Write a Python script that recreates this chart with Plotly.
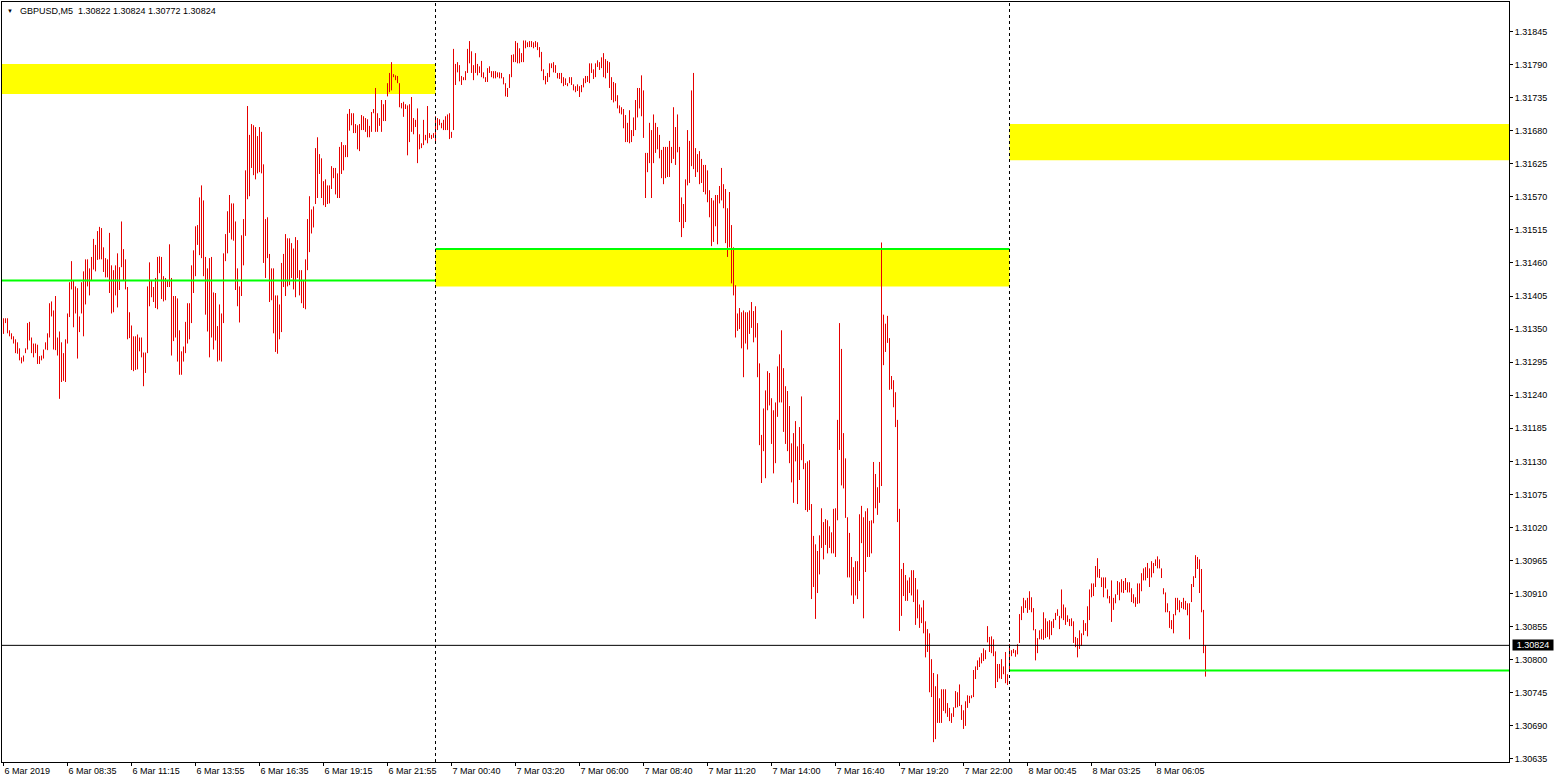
import plotly.graph_objects as go

symbol_line = "GBPUSD,M5&nbsp; 1.30822 1.30824 1.30772 1.30824"
bid_price = 1.30824

# M5 bars, oldest first. bar index 0 = 7 Mar 00:00, so the list starts at 6 Mar 06:00 (-216)
first_bar = -216
bar_high = [
    1.31368, 1.31368, 1.31368, 1.31348, 1.31343, 1.31338, 1.31333, 1.31328, 1.31318, 1.31303,
    1.31306, 1.31318, 1.31360, 1.31362, 1.31336, 1.31326, 1.31326, 1.31324, 1.31305, 1.31306,
    1.31316, 1.31328, 1.31343, 1.31393, 1.31396, 1.31381, 1.31405, 1.31336, 1.31346, 1.31328,
    1.31310, 1.31333, 1.31376, 1.31428, 1.31463, 1.31431, 1.31421, 1.31418, 1.31371, 1.31428,
    1.31446, 1.31466, 1.31466, 1.31451, 1.31470, 1.31500, 1.31490, 1.31513, 1.31520, 1.31518,
    1.31486, 1.31468, 1.31466, 1.31510, 1.31456, 1.31448, 1.31456, 1.31476, 1.31453, 1.31529,
    1.31483, 1.31466, 1.31420, 1.31378, 1.31356, 1.31338, 1.31338, 1.31341, 1.31336, 1.31336,
    1.31311, 1.31311, 1.31421, 1.31461, 1.31431, 1.31420, 1.31435, 1.31470, 1.31471, 1.31470,
    1.31438, 1.31435, 1.31430, 1.31491, 1.31435, 1.31405, 1.31405, 1.31401, 1.31348, 1.31313,
    1.31321, 1.31362, 1.31393, 1.31393, 1.31456, 1.31481, 1.31521, 1.31523, 1.31569, 1.31589,
    1.31564, 1.31470, 1.31451, 1.31468, 1.31470, 1.31411, 1.31410, 1.31355, 1.31391, 1.31376,
    1.31476, 1.31508, 1.31546, 1.31573, 1.31559, 1.31559, 1.31529, 1.31451, 1.31421, 1.31506,
    1.31533, 1.31614, 1.31721, 1.31673, 1.31691, 1.31689, 1.31686, 1.31671, 1.31686, 1.31678,
    1.31624, 1.31533, 1.31536, 1.31475, 1.31451, 1.31451, 1.31406, 1.31406, 1.31391, 1.31460,
    1.31475, 1.31508, 1.31501, 1.31501, 1.31493, 1.31484, 1.31503, 1.31498, 1.31448, 1.31448,
    1.31431, 1.31466, 1.31533, 1.31571, 1.31549, 1.31554, 1.31651, 1.31669, 1.31641, 1.31634,
    1.31596, 1.31599, 1.31589, 1.31589, 1.31621, 1.31618, 1.31618, 1.31609, 1.31653, 1.31661,
    1.31656, 1.31656, 1.31708, 1.31716, 1.31709, 1.31709, 1.31691, 1.31689, 1.31691, 1.31706,
    1.31704, 1.31701, 1.31699, 1.31688, 1.31711, 1.31716, 1.31751, 1.31709, 1.31701, 1.31731,
    1.31724, 1.31731, 1.31759, 1.31776, 1.31794, 1.31774, 1.31772, 1.31771, 1.31759, 1.31726,
    1.31728, 1.31724, 1.31722, 1.31724, 1.31736, 1.31701, 1.31698, 1.31717, 1.31674, 1.31659,
    1.31698, 1.31673, 1.31721, 1.31676, 1.31673, 1.31676, 1.31704, 1.31701, 1.31699, 1.31693,
    1.31698, 1.31704, 1.31707, 1.31709, 1.31678, 1.31816, 1.31791, 1.31794, 1.31789, 1.31771,
    1.31769, 1.31779, 1.31816, 1.31829, 1.31812, 1.31789, 1.31809, 1.31791, 1.31787, 1.31796,
    1.31777, 1.31769, 1.31784, 1.31787, 1.31779, 1.31779, 1.31779, 1.31777, 1.31777, 1.31776,
    1.31769, 1.31759, 1.31751, 1.31774, 1.31806, 1.31807, 1.31829, 1.31826, 1.31817, 1.31809,
    1.31830, 1.31830, 1.31827, 1.31829, 1.31829, 1.31827, 1.31829, 1.31827, 1.31819, 1.31811,
    1.31782, 1.31771, 1.31776, 1.31792, 1.31792, 1.31794, 1.31789, 1.31776, 1.31776, 1.31776,
    1.31769, 1.31767, 1.31759, 1.31769, 1.31769, 1.31757, 1.31754, 1.31757, 1.31754, 1.31756,
    1.31767, 1.31771, 1.31771, 1.31792, 1.31792, 1.31782, 1.31792, 1.31797, 1.31794, 1.31802,
    1.31809, 1.31799, 1.31796, 1.31794, 1.31769, 1.31761, 1.31759, 1.31739, 1.31722, 1.31719,
    1.31716, 1.31706, 1.31693, 1.31714, 1.31681, 1.31702, 1.31731, 1.31751, 1.31751, 1.31772,
    1.31747, 1.31643, 1.31643, 1.31693, 1.31681, 1.31707, 1.31693, 1.31686, 1.31673, 1.31648,
    1.31653, 1.31653, 1.31653, 1.31663, 1.31653, 1.31719, 1.31686, 1.31707, 1.31653, 1.31569,
    1.31558, 1.31599, 1.31681, 1.31663, 1.31747, 1.31776, 1.31651, 1.31641, 1.31646, 1.31633,
    1.31623, 1.31623, 1.31614, 1.31581, 1.31568, 1.31564, 1.31573, 1.31573, 1.31588, 1.31618,
    1.31591, 1.31583, 1.31551, 1.31578, 1.31523, 1.31486, 1.31423, 1.31376, 1.31385, 1.31378,
    1.31381, 1.31378, 1.31378, 1.31381, 1.31395, 1.31380, 1.31388, 1.31360, 1.31293, 1.31174,
    1.31218, 1.31248, 1.31280, 1.31277, 1.31235, 1.31215, 1.31228, 1.31288, 1.31308, 1.31348,
    1.31285, 1.31255, 1.31247, 1.31222, 1.31160, 1.31177, 1.31197, 1.31155, 1.31187, 1.31238,
    1.31159, 1.31127, 1.31130, 1.31132, 1.31059, 1.31006, 1.30992, 1.30981, 1.31007, 1.31052,
    1.31029, 1.31034, 1.31032, 1.31022, 1.31012, 1.31051, 1.31052, 1.31199, 1.31360, 1.31317,
    1.31177, 1.31135, 1.31037, 1.31011, 1.30971, 1.30954, 1.30964, 1.30964, 1.31042, 1.31056,
    1.31037, 1.31047, 1.31052, 1.31031, 1.31032, 1.31129, 1.31109, 1.31087, 1.31129, 1.31494,
    1.31374, 1.31359, 1.31372, 1.31335, 1.31272, 1.31265, 1.31245, 1.31199, 1.31051, 1.30951,
    1.30961, 1.30941, 1.30932, 1.30937, 1.30949, 1.30949, 1.30936, 1.30917, 1.30892, 1.30887,
    1.30899, 1.30864, 1.30851, 1.30844, 1.30801, 1.30778, 1.30756, 1.30776, 1.30736, 1.30751,
    1.30751, 1.30751, 1.30728, 1.30720, 1.30711, 1.30721, 1.30748, 1.30746, 1.30759, 1.30725,
    1.30716, 1.30731, 1.30741, 1.30740, 1.30741, 1.30783, 1.30789, 1.30799, 1.30804, 1.30811,
    1.30819, 1.30816, 1.30856, 1.30838, 1.30839, 1.30834, 1.30814, 1.30793, 1.30793, 1.30801,
    1.30789, 1.30813, 1.30776, 1.30826, 1.30816, 1.30818, 1.30816, 1.30826, 1.30876, 1.30889,
    1.30903, 1.30899, 1.30903, 1.30914, 1.30904, 1.30886, 1.30851, 1.30836, 1.30849, 1.30851,
    1.30879, 1.30869, 1.30864, 1.30866, 1.30864, 1.30868, 1.30878, 1.30884, 1.30873, 1.30917,
    1.30892, 1.30887, 1.30874, 1.30868, 1.30869, 1.30864, 1.30838, 1.30836, 1.30849, 1.30844,
    1.30866, 1.30861, 1.30889, 1.30917, 1.30927, 1.30927, 1.30956, 1.30969, 1.30951, 1.30937,
    1.30937, 1.30937, 1.30917, 1.30906, 1.30932, 1.30903, 1.30909, 1.30931, 1.30929, 1.30934,
    1.30931, 1.30936, 1.30929, 1.30929, 1.30919, 1.30909, 1.30904, 1.30927, 1.30927, 1.30944,
    1.30952, 1.30954, 1.30961, 1.30952, 1.30964, 1.30961, 1.30967, 1.30972, 1.30967, 1.30952,
    1.30919, 1.30912, 1.30894, 1.30881, 1.30866, 1.30876, 1.30903, 1.30903, 1.30899, 1.30896,
    1.30903, 1.30898, 1.30894, 1.30894, 1.30926, 1.30939, 1.30974, 1.30971, 1.30967, 1.30951,
    1.30883, 1.30824,
]
bar_low = [
    1.31342, 1.31360, 1.31343, 1.31338, 1.31333, 1.31326, 1.31310, 1.31309, 1.31298, 1.31293,
    1.31296, 1.31310, 1.31316, 1.31331, 1.31310, 1.31303, 1.31310, 1.31292, 1.31292, 1.31298,
    1.31301, 1.31316, 1.31315, 1.31336, 1.31371, 1.31316, 1.31315, 1.31306, 1.31234, 1.31262,
    1.31264, 1.31262, 1.31326, 1.31370, 1.31416, 1.31353, 1.31376, 1.31301, 1.31345, 1.31376,
    1.31338, 1.31391, 1.31421, 1.31406, 1.31431, 1.31449, 1.31446, 1.31465, 1.31466, 1.31466,
    1.31445, 1.31436, 1.31436, 1.31410, 1.31376, 1.31378, 1.31406, 1.31386, 1.31415, 1.31453,
    1.31431, 1.31416, 1.31333, 1.31335, 1.31282, 1.31280, 1.31282, 1.31283, 1.31313, 1.31303,
    1.31255, 1.31277, 1.31310, 1.31388, 1.31403, 1.31395, 1.31385, 1.31383, 1.31443, 1.31400,
    1.31396, 1.31398, 1.31420, 1.31420, 1.31306, 1.31330, 1.31336, 1.31296, 1.31274, 1.31274,
    1.31296, 1.31310, 1.31326, 1.31333, 1.31360, 1.31410, 1.31438, 1.31490, 1.31473, 1.31468,
    1.31438, 1.31374, 1.31346, 1.31303, 1.31336, 1.31316, 1.31331, 1.31296, 1.31298, 1.31296,
    1.31360, 1.31463, 1.31476, 1.31510, 1.31499, 1.31497, 1.31415, 1.31388, 1.31361, 1.31405,
    1.31456, 1.31505, 1.31566, 1.31571, 1.31618, 1.31606, 1.31599, 1.31609, 1.31611, 1.31609,
    1.31460, 1.31435, 1.31468, 1.31395, 1.31398, 1.31343, 1.31312, 1.31309, 1.31333, 1.31345,
    1.31420, 1.31405, 1.31421, 1.31423, 1.31435, 1.31416, 1.31403, 1.31435, 1.31406, 1.31393,
    1.31385, 1.31383, 1.31448, 1.31478, 1.31509, 1.31519, 1.31558, 1.31568, 1.31608, 1.31568,
    1.31556, 1.31553, 1.31558, 1.31559, 1.31583, 1.31601, 1.31574, 1.31568, 1.31568, 1.31608,
    1.31614, 1.31636, 1.31636, 1.31680, 1.31689, 1.31676, 1.31676, 1.31649, 1.31646, 1.31681,
    1.31681, 1.31678, 1.31669, 1.31669, 1.31678, 1.31709, 1.31678, 1.31678, 1.31688, 1.31678,
    1.31696, 1.31696, 1.31737, 1.31744, 1.31747, 1.31769, 1.31764, 1.31759, 1.31719, 1.31717,
    1.31703, 1.31716, 1.31639, 1.31661, 1.31678, 1.31674, 1.31686, 1.31626, 1.31649, 1.31651,
    1.31656, 1.31664, 1.31659, 1.31668, 1.31666, 1.31668, 1.31659, 1.31681, 1.31689, 1.31684,
    1.31681, 1.31681, 1.31681, 1.31666, 1.31668, 1.31681, 1.31756, 1.31777, 1.31762, 1.31756,
    1.31764, 1.31764, 1.31776, 1.31792, 1.31776, 1.31764, 1.31776, 1.31772, 1.31776, 1.31769,
    1.31767, 1.31761, 1.31761, 1.31776, 1.31769, 1.31767, 1.31767, 1.31769, 1.31767, 1.31767,
    1.31757, 1.31737, 1.31736, 1.31751, 1.31769, 1.31794, 1.31794, 1.31792, 1.31792, 1.31794,
    1.31794, 1.31817, 1.31819, 1.31819, 1.31819, 1.31817, 1.31819, 1.31814, 1.31802, 1.31779,
    1.31764, 1.31757, 1.31761, 1.31769, 1.31784, 1.31777, 1.31776, 1.31767, 1.31766, 1.31759,
    1.31754, 1.31756, 1.31754, 1.31759, 1.31756, 1.31747, 1.31744, 1.31746, 1.31736, 1.31744,
    1.31752, 1.31759, 1.31761, 1.31759, 1.31776, 1.31766, 1.31769, 1.31786, 1.31781, 1.31784,
    1.31769, 1.31767, 1.31776, 1.31751, 1.31731, 1.31727, 1.31729, 1.31717, 1.31709, 1.31707,
    1.31684, 1.31661, 1.31661, 1.31659, 1.31661, 1.31671, 1.31681, 1.31702, 1.31717, 1.31704,
    1.31668, 1.31568, 1.31611, 1.31626, 1.31568, 1.31626, 1.31643, 1.31649, 1.31634, 1.31601,
    1.31591, 1.31601, 1.31603, 1.31603, 1.31626, 1.31633, 1.31623, 1.31644, 1.31528, 1.31503,
    1.31518, 1.31528, 1.31589, 1.31593, 1.31621, 1.31616, 1.31603, 1.31611, 1.31591, 1.31593,
    1.31578, 1.31574, 1.31561, 1.31536, 1.31488, 1.31495, 1.31521, 1.31491, 1.31559, 1.31564,
    1.31551, 1.31493, 1.31470, 1.31486, 1.31426, 1.31406, 1.31336, 1.31347, 1.31350, 1.31318,
    1.31270, 1.31326, 1.31316, 1.31342, 1.31352, 1.31328, 1.31336, 1.31270, 1.31157, 1.31094,
    1.31147, 1.31102, 1.31215, 1.31223, 1.31159, 1.31110, 1.31127, 1.31204, 1.31228, 1.31228,
    1.31179, 1.31159, 1.31147, 1.31127, 1.31095, 1.31061, 1.31130, 1.31059, 1.31099, 1.31132,
    1.31117, 1.31049, 1.31046, 1.31049, 1.30901, 1.30921, 1.30868, 1.30911, 1.30942, 1.30986,
    1.30967, 1.30991, 1.30977, 1.30986, 1.30977, 1.30977, 1.30971, 1.31032, 1.31149, 1.31090,
    1.31085, 1.31036, 1.30937, 1.30937, 1.30907, 1.30893, 1.30907, 1.30901, 1.30931, 1.30994,
    1.30869, 1.30946, 1.30971, 1.30971, 1.30977, 1.31027, 1.31052, 1.31041, 1.31061, 1.31089,
    1.31290, 1.31312, 1.31327, 1.31249, 1.31250, 1.31220, 1.31187, 1.31029, 1.30848, 1.30873,
    1.30906, 1.30898, 1.30898, 1.30911, 1.30907, 1.30896, 1.30858, 1.30869, 1.30853, 1.30861,
    1.30844, 1.30804, 1.30813, 1.30746, 1.30738, 1.30663, 1.30668, 1.30695, 1.30695, 1.30695,
    1.30715, 1.30711, 1.30705, 1.30698, 1.30695, 1.30705, 1.30720, 1.30721, 1.30723, 1.30700,
    1.30685, 1.30690, 1.30720, 1.30728, 1.30736, 1.30738, 1.30768, 1.30783, 1.30788, 1.30794,
    1.30798, 1.30801, 1.30829, 1.30813, 1.30811, 1.30806, 1.30753, 1.30763, 1.30769, 1.30768,
    1.30776, 1.30761, 1.30758, 1.30783, 1.30806, 1.30811, 1.30805, 1.30809, 1.30828, 1.30866,
    1.30878, 1.30886, 1.30878, 1.30883, 1.30879, 1.30849, 1.30799, 1.30811, 1.30834, 1.30834,
    1.30833, 1.30836, 1.30838, 1.30834, 1.30841, 1.30853, 1.30866, 1.30873, 1.30851, 1.30869,
    1.30866, 1.30858, 1.30863, 1.30856, 1.30856, 1.30828, 1.30821, 1.30804, 1.30818, 1.30823,
    1.30841, 1.30848, 1.30839, 1.30866, 1.30904, 1.30906, 1.30921, 1.30937, 1.30936, 1.30921,
    1.30904, 1.30919, 1.30902, 1.30894, 1.30863, 1.30883, 1.30894, 1.30908, 1.30899, 1.30912,
    1.30911, 1.30916, 1.30912, 1.30912, 1.30896, 1.30894, 1.30888, 1.30893, 1.30894, 1.30914,
    1.30932, 1.30932, 1.30936, 1.30921, 1.30937, 1.30944, 1.30956, 1.30952, 1.30952, 1.30936,
    1.30909, 1.30879, 1.30879, 1.30853, 1.30851, 1.30844, 1.30874, 1.30883, 1.30879, 1.30886,
    1.30884, 1.30883, 1.30874, 1.30834, 1.30896, 1.30921, 1.30936, 1.30951, 1.30911, 1.30879,
    1.30811, 1.30772,
]

# period separators (bar index of 7 Mar 00:00 and 8 Mar 00:00)
day_breaks = [0, 287]
# one yellow zone and one green level per day
zone_top = [1.31791, 1.31483, 1.31691]
zone_bottom = [1.31741, 1.31421, 1.31631]
level_price = [1.31431, 1.31483, 1.30782]

price_ticks = [
    1.31845, 1.31790, 1.31735, 1.31680, 1.31625, 1.31570, 1.31515, 1.31460,
    1.31405, 1.31350, 1.31295, 1.31240, 1.31185, 1.31130, 1.31075, 1.31020,
    1.30965, 1.30910, 1.30855, 1.30800, 1.30745, 1.30690, 1.30635,
]
time_ticks = [-216, -184, -152, -120, -88, -56, -24, 8, 40, 72, 104, 136, 168, 200, 232, 264, 296, 328, 360]
time_labels = [
    "6 Mar 2019", "6 Mar 08:35", "6 Mar 11:15", "6 Mar 13:55", "6 Mar 16:35",
    "6 Mar 19:15", "6 Mar 21:55", "7 Mar 00:40", "7 Mar 03:20", "7 Mar 06:00",
    "7 Mar 08:40", "7 Mar 11:20", "7 Mar 14:00", "7 Mar 16:40", "7 Mar 19:20",
    "7 Mar 22:00", "8 Mar 00:45", "8 Mar 03:25", "8 Mar 06:05",
]

X_RANGE = [-216.75, 536.75]
Y_RANGE = [1.3063, 1.31894]
BAR_COLOR = "#e60000"
FONT = "Liberation Sans, Arial, sans-serif"


def build_bar_chart() -> go.Figure:
    xs, ys = [], []
    for i, (hi, lo) in enumerate(zip(bar_high, bar_low)):
        k = first_bar + i
        xs += [k, k, None]
        ys += [lo, hi, None]

    fig = go.Figure(
        go.Scatter(
            x=xs,
            y=ys,
            mode="lines",
            line=dict(color=BAR_COLOR, width=1),
            hoverinfo="skip",
            connectgaps=False,
        )
    )

    edges = [X_RANGE[0] - 20, day_breaks[0], day_breaks[1], X_RANGE[1] + 20]
    for i in range(3):
        fig.add_shape(
            type="rect", xref="x", yref="y", layer="below",
            x0=edges[i], x1=edges[i + 1], y0=zone_bottom[i], y1=zone_top[i],
            fillcolor="#ffff00", line=dict(width=0),
        )
        fig.add_shape(
            type="line", xref="x", yref="y", layer="above",
            x0=edges[i], x1=edges[i + 1], y0=level_price[i], y1=level_price[i],
            line=dict(color="#00ff00", width=2),
        )

    fig.add_shape(
        type="line", xref="paper", yref="y", x0=0, x1=1, y0=bid_price, y1=bid_price,
        line=dict(color="black", width=1),
    )
    for b in day_breaks:
        fig.add_shape(
            type="line", xref="x", yref="paper", x0=b, x1=b, y0=0, y1=1,
            line=dict(color="black", width=1, dash="3px,3px"),
        )

    fig.add_annotation(
        xref="paper", yref="paper", x=0.005, y=0.9888, text="▼", showarrow=False,
        xanchor="center", yanchor="middle", font=dict(size=6, color="black"),
    )
    fig.add_annotation(
        xref="paper", yref="paper", x=0.0106, y=0.9888, text=symbol_line, showarrow=False,
        xanchor="left", yanchor="middle", font=dict(family=FONT, size=9, color="black"),
    )
    fig.add_annotation(
        xref="paper", yref="y", x=1, y=bid_price, text=f"{bid_price:.5f}", showarrow=False,
        xanchor="left", yanchor="middle", xshift=3, width=40, height=10, borderpad=0,
        bgcolor="black", font=dict(family=FONT, size=9, color="white"),
    )

    fig.update_layout(
        width=1557,
        height=783,
        margin=dict(l=2, r=48, t=2, b=21),
        plot_bgcolor="white",
        paper_bgcolor="white",
        showlegend=False,
        font=dict(family=FONT, size=9, color="black"),
    )
    fig.update_xaxes(
        range=X_RANGE, showgrid=False, zeroline=False,
        showline=True, mirror=True, linecolor="black", linewidth=1,
        ticks="outside", ticklen=3, tickcolor="black",
        tickvals=time_ticks, ticktext=time_labels, ticklabelposition="outside right",
    )
    fig.update_yaxes(
        range=Y_RANGE, side="right", showgrid=False, zeroline=False,
        showline=True, mirror=True, linecolor="black", linewidth=1,
        ticks="outside", ticklen=3, tickcolor="black",
        tickvals=price_ticks, ticktext=[f"{p:.5f}" for p in price_ticks],
    )
    return fig


fig = build_bar_chart()
fig.write_html(
    "out.html",
    config={"displayModeBar": False},
    post_script="document.body.style.margin='0';",
)
